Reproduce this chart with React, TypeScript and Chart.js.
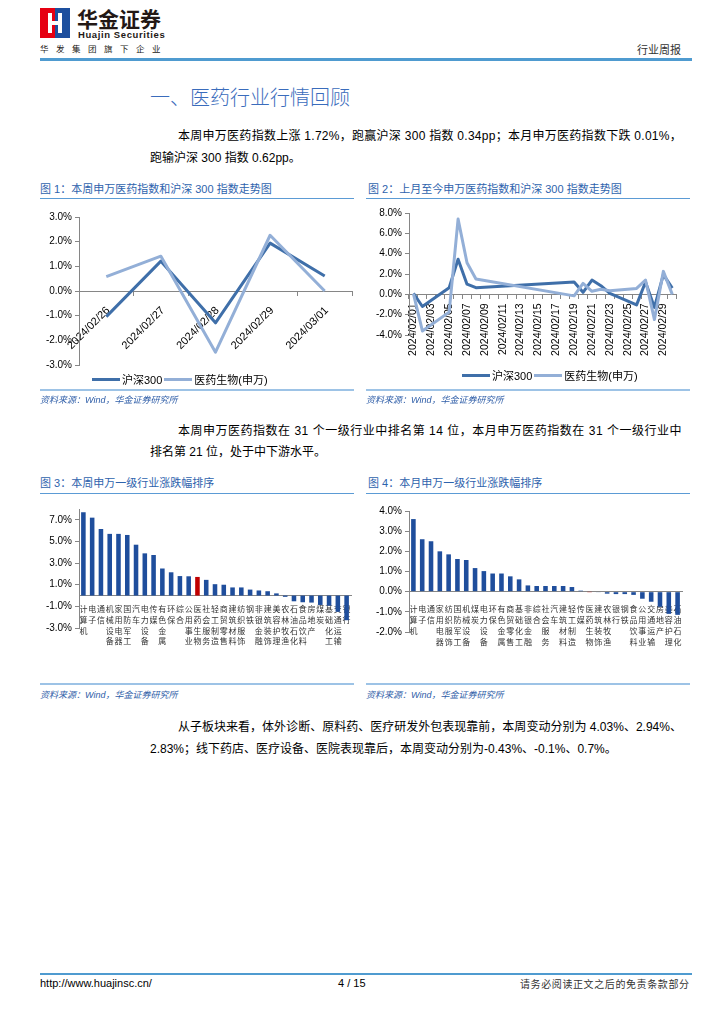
import React, { useEffect, useLayoutEffect, useRef } from 'react';
import { Chart, registerables } from 'chart.js';

Chart.register(...registerables);

// ---------------- data ----------------
const weekDates = ['2024/02/26', '2024/02/27', '2024/02/28', '2024/02/29', '2024/03/01'];
const weekHs300 = [-1.04, 1.21, -1.29, 1.94, 0.61];
const weekMedicine = [0.58, 1.41, -2.48, 2.26, 0.0];

const monthDates = [
  '2024/02/01', '2024/02/02', '2024/02/03', '2024/02/04', '2024/02/05', '2024/02/06', '2024/02/07',
  '2024/02/08', '2024/02/09', '2024/02/10', '2024/02/11', '2024/02/12', '2024/02/13', '2024/02/14',
  '2024/02/15', '2024/02/16', '2024/02/17', '2024/02/18', '2024/02/19', '2024/02/20', '2024/02/21',
  '2024/02/22', '2024/02/23', '2024/02/24', '2024/02/25', '2024/02/26', '2024/02/27', '2024/02/28',
  '2024/02/29', '2024/03/01',
];
const monthHs300 = [
  0.1, -1.2, null, null, 0.65, 3.45, 1.0, 0.65,
  null, null, null, null, null, null, null, null, null, null,
  1.22, 0.2, 1.4, 0.85, 0.1, null, null,
  -1.04, 1.21, -1.29, 1.94, 0.61,
];
const monthMedicine = [
  0.05, -3.6, null, null, -1.75, 7.4, 3.1, 1.5,
  null, null, null, null, null, null, null, null, null, null,
  -0.15, 1.07, 0.3, 0.5, 0.35, null, null,
  0.58, 1.41, -2.48, 2.26, 0.0,
];

const weekIndustries = [
  '计算机', '电子', '通信', '机械设备', '家用电器', '国防军工', '汽车', '电力设备', '传媒', '有色金属',
  '环保', '综合', '公用事业', '医药生物', '社会服务', '轻工制造', '商贸零售', '建筑材料', '纺织服饰', '钢铁',
  '非银金融', '建筑装饰', '美容护理', '农林牧渔', '石油石化', '食品饮料', '房地产', '煤炭', '基础化工', '交通运输',
  '银行',
];
const weekChanges = [
  7.7, 7.2, 6.15, 5.7, 5.7, 5.6, 4.7, 3.9, 3.75, 2.5,
  2.15, 1.8, 1.78, 1.72, 1.45, 1.05, 1.0, 0.75, 0.75, 0.55,
  0.47, 0.4, 0.2, -0.12, -0.53, -0.62, -0.65, -0.87, -0.94, -1.5,
  -2.28,
];
const weekAxisTicks = [-3, -1, 1, 3, 5, 7];

const monthIndustries = [
  '计算机', '电子', '通信', '家用电器', '纺织服饰', '国防军工', '机械设备', '煤炭', '电力设备', '环保',
  '有色金属', '商贸零售', '基础化工', '非银金融', '综合', '社会服务', '汽车', '建筑材料', '轻工制造', '传媒',
  '医药生物', '建筑装饰', '农林牧渔', '银行', '钢铁', '食品饮料', '公用事业', '交通运输', '房地产', '美容护理',
  '石油石化',
];
const monthChanges = [
  3.6, 2.6, 2.5, 2.0, 1.85, 1.62, 1.57, 1.17, 1.02, 0.9,
  0.9, 0.76, 0.61, 0.31, 0.28, 0.28, 0.28, 0.28, 0.23, 0.05,
  -0.01, -0.02, -0.1, -0.12, -0.12, -0.16, -0.35, -0.5, -0.75, -1.1,
  -1.15,
];
const HIGHLIGHT = '医药生物';

// ---------------- styles ----------------
const TICK_FONT = '"Liberation Sans", Arial, sans-serif';
const CJK = '"Noto Sans CJK SC", sans-serif';
const BODY_FONT = '"Liberation Sans", "Noto Sans CJK SC", sans-serif';
const AXIS_GRAY = '#868686';
const DARK = '#3f6fa9';
const LIGHT = '#93afd7';
const BAR = '#1f4e9c';
const RED = '#c00000';
const TITLE_BLUE = '#2e63ad';
const RULE_BLUE = '#5b9bd5';

const pct = (v: any) => Number(v).toFixed(1) + '%';

function yScale(min: number, max: number, step: number, width: number, extra: any = {}) {
  return {
    type: 'linear',
    min,
    max,
    ticks: { stepSize: step, callback: pct, font: { family: TICK_FONT, size: 10 }, color: '#000', padding: 3 },
    grid: { drawOnChartArea: false, drawTicks: true, tickLength: 4, color: AXIS_GRAY },
    border: { display: true, color: AXIS_GRAY },
    afterFit: (s: any) => { s.width = width; },
    ...extra,
  };
}

const baseOptions = (padding: any) => ({
  responsive: false,
  animation: false,
  devicePixelRatio: 1,
  layout: { padding },
  plugins: { legend: { display: false }, tooltip: { enabled: false } },
});

function weekLineConfig(): any {
  return {
    type: 'line',
    data: {
      labels: weekDates,
      datasets: [
        { label: '沪深300', data: weekHs300, borderColor: DARK, borderWidth: 3, pointRadius: 0, order: 1, borderJoinStyle: 'round' },
        { label: '医药生物(申万)', data: weekMedicine, borderColor: LIGHT, borderWidth: 3, pointRadius: 0, order: 0, borderJoinStyle: 'round' },
      ],
    },
    options: {
      ...baseOptions({ left: 0, right: 6, top: 13, bottom: 8 }),
      scales: {
        x: {
          type: 'category',
          offset: true,
          position: { y: 0 },
          ticks: { minRotation: 45, maxRotation: 45, autoSkip: false, labelOffset: 2, padding: 9, font: { family: TICK_FONT, size: 11 }, color: '#000' },
          grid: { drawOnChartArea: false, tickLength: 4, color: AXIS_GRAY, offset: true },
          border: { display: true, color: AXIS_GRAY },
        },
        y: yScale(-3, 3, 1, 43),
      },
    },
  };
}

function monthLineConfig(): any {
  return {
    type: 'line',
    data: {
      labels: monthDates,
      datasets: [
        { label: '沪深300', data: monthHs300, borderColor: DARK, borderWidth: 3, pointRadius: 0, order: 1, spanGaps: true, borderJoinStyle: 'round' },
        { label: '医药生物(申万)', data: monthMedicine, borderColor: LIGHT, borderWidth: 3, pointRadius: 0, order: 0, spanGaps: true, borderJoinStyle: 'round' },
      ],
    },
    options: {
      ...baseOptions({ left: 0, right: 7, top: 8, bottom: 21 }),
      scales: {
        x: {
          type: 'category',
          offset: true,
          position: { y: 0 },
          ticks: {
            minRotation: 90, maxRotation: 90, autoSkip: false, padding: 5,
            font: { family: TICK_FONT, size: 10.5 }, color: '#000',
            callback: (_v: any, i: number) => (i % 2 === 0 ? monthDates[i] : ''),
          },
          grid: { drawOnChartArea: false, tickLength: 4, color: AXIS_GRAY, offset: true },
          border: { display: true, color: AXIS_GRAY },
        },
        y: yScale(-4, 8, 2, 43),
      },
    },
  };
}

function barConfig(names: string[], values: number[], y: any, padding: any, labelPad: number): any {
  return {
    type: 'bar',
    data: {
      labels: names.map((n) => n.split('')),
      datasets: [
        {
          data: values,
          backgroundColor: names.map((n) => (n === HIGHLIGHT ? RED : BAR)),
          barPercentage: 0.52,
          categoryPercentage: 1,
        },
      ],
    },
    options: {
      ...baseOptions(padding),
      scales: {
        x: {
          type: 'category',
          offset: true,
          position: { y: 0 },
          ticks: { autoSkip: false, minRotation: 0, maxRotation: 0, padding: labelPad, font: { family: CJK, size: 8, lineHeight: 1.35 }, color: '#333' },
          grid: { display: false },
          border: { display: true, color: AXIS_GRAY },
        },
        y,
      },
    },
  };
}

// ---------------- components ----------------
function ChartBox({ left, top, width, height, make }: any) {
  const ref = useRef<HTMLCanvasElement | null>(null);
  useEffect(() => {
    const chart = new Chart(ref.current as HTMLCanvasElement, make());
    return () => chart.destroy();
  }, []);
  return <canvas ref={ref} width={width} height={height} style={{ position: 'absolute', left, top, width, height }} />;
}

function Text({ x, y, size, color = '#000', children, style = {} }: any) {
  return (
    <div style={{ position: 'absolute', left: x, top: y - size * 0.7, fontSize: size, lineHeight: `${size * 1.4}px`, whiteSpace: 'nowrap', color, ...style }}>
      {children}
    </div>
  );
}

function FitLine({ x, y, width, size, text, color = '#000' }: any) {
  const ref = useRef<HTMLSpanElement | null>(null);
  useLayoutEffect(() => {
    const el = ref.current as HTMLSpanElement;
    el.style.letterSpacing = '0px';
    const w = el.getBoundingClientRect().width;
    const n = Array.from(text as string).length;
    el.style.letterSpacing = `${(width - w) / n}px`;
  }, []);
  return (
    <span ref={ref} style={{ position: 'absolute', left: x, top: y - size * 0.7, fontSize: size, lineHeight: `${size * 1.4}px`, whiteSpace: 'nowrap', color }}>
      {text}
    </span>
  );
}

function Rule({ x1, x2, y, h = 1, color = RULE_BLUE }: any) {
  return <div style={{ position: 'absolute', left: x1, top: y, width: x2 - x1, height: h, background: color }} />;
}

function Legend({ x, y, items }: any) {
  return (
    <div style={{ position: 'absolute', left: x, top: y - 8, height: 16, display: 'flex', alignItems: 'center', fontFamily: BODY_FONT, fontSize: 11, whiteSpace: 'nowrap' }}>
      {items.map((it: any) => (
        <div key={it.label} style={{ display: 'flex', alignItems: 'center' }}>
          <div style={{ width: 28, height: 3, background: it.color }} />
          <span style={{ marginLeft: 2, marginRight: 2 }}>{it.label}</span>
        </div>
      ))}
    </div>
  );
}

function Source({ x, y }: any) {
  return (
    <Text x={x} y={y} size={9} color="#2f5ea8" style={{ fontStyle: 'italic', fontFamily: BODY_FONT }}>
      资料来源：Wind，华金证券研究所
    </Text>
  );
}

function Logo() {
  return (
    <>
      <div style={{ position: 'absolute', left: 40, top: 8, width: 15, height: 30, background: '#e60012' }} />
      <div style={{ position: 'absolute', left: 55, top: 8, width: 15, height: 30, background: '#1d4f9e' }} />
      <div style={{ position: 'absolute', left: 48, top: 13, width: 4, height: 20, background: '#fff' }} />
      <div style={{ position: 'absolute', left: 58, top: 13, width: 4, height: 20, background: '#fff' }} />
      <div style={{ position: 'absolute', left: 52, top: 21, width: 6, height: 4, background: '#fff' }} />
      <Text x={77} y={18} size={21} color="#231815" style={{ fontFamily: CJK, fontWeight: 700, lineHeight: '22px', top: 7 }}>华金证券</Text>
      <Text x={78} y={35} size={9.5} color="#231815" style={{ fontFamily: '"Liberation Sans", sans-serif', fontWeight: 700, letterSpacing: 0.6 }}>Huajin Securities</Text>
      <Text x={40} y={49} size={8.5} color="#231815" style={{ fontFamily: CJK, letterSpacing: 7.5 }}>华发集团旗下企业</Text>
    </>
  );
}

export default function App() {
  const legendItems = [
    { label: '沪深300', color: DARK },
    { label: '医药生物(申万)', color: LIGHT },
  ];
  return (
    <div style={{ position: 'absolute', left: 0, top: 0, width: 724, height: 1024, background: '#fff', overflow: 'hidden', fontFamily: BODY_FONT, color: '#000' }}>
      <Logo />
      <Text x={637} y={50} size={11} color="#333" style={{ fontFamily: CJK }}>行业周报</Text>
      <Rule x1={40} x2={692} y={58} h={3} color="#4f9bd0" />

      <Text x={150} y={97} size={20} color="#3a6cbc" style={{ fontFamily: CJK, fontWeight: 300 }}>一、医药行业行情回顾</Text>

      <FitLine x={178} y={136} width={504} size={12} text="本周申万医药指数上涨 1.72%，跑赢沪深 300 指数 0.34pp；本月申万医药指数下跌 0.01%，" />
      <Text x={150} y={158} size={12}>跑输沪深 300 指数 0.62pp。</Text>

      <Text x={40} y={190} size={11} color={TITLE_BLUE}>图 1：本周申万医药指数和沪深 300 指数走势图</Text>
      <Text x={368} y={190} size={11} color={TITLE_BLUE}>图 2：上月至今申万医药指数和沪深 300 指数走势图</Text>
      <Rule x1={40} x2={354} y={198} />
      <Rule x1={366} x2={690} y={198} />

      <ChartBox left={36} top={204} width={322} height={170} make={weekLineConfig} />
      <ChartBox left={366} top={204} width={324} height={152} make={monthLineConfig} />
      <Legend x={92} y={379} items={legendItems} />
      <Legend x={462} y={375} items={legendItems} />

      <Rule x1={40} x2={354} y={389} h={2} color="#9dc3e6" />
      <Rule x1={366} x2={690} y={389} h={2} color="#9dc3e6" />
      <Source x={40} y={400} />
      <Source x={366} y={400} />

      <FitLine x={178} y={431} width={504} size={12} text="本周申万医药指数在 31 个一级行业中排名第 14 位，本月申万医药指数在 31 个一级行业中" />
      <Text x={150} y={452} size={12}>排名第 21 位，处于中下游水平。</Text>

      <Text x={40} y={484} size={11} color={TITLE_BLUE}>图 3：本周申万一级行业涨跌幅排序</Text>
      <Text x={368} y={484} size={11} color={TITLE_BLUE}>图 4：本月申万一级行业涨跌幅排序</Text>
      <Rule x1={40} x2={354} y={493} />
      <Rule x1={366} x2={690} y={493} />

      <ChartBox
        left={36} top={500} width={320} height={150}
        make={() => barConfig(weekIndustries, weekChanges,
          yScale(-3, 8, 2, 43, { afterBuildTicks: (s: any) => { s.ticks = weekAxisTicks.map((v) => ({ value: v })); } }),
          { left: 0, right: 5, top: 8, bottom: 22 }, 0)}
      />
      <ChartBox
        left={366} top={500} width={322} height={150}
        make={() => barConfig(monthIndustries, monthChanges, yScale(-2, 4, 1, 43), { left: 0, right: 6, top: 11, bottom: 18 }, 4)}
      />

      <Rule x1={40} x2={354} y={683} h={2} color="#9dc3e6" />
      <Rule x1={366} x2={690} y={683} h={2} color="#9dc3e6" />
      <Source x={40} y={695} />
      <Source x={366} y={695} />

      <FitLine x={178} y={727} width={504} size={12} text="从子板块来看，体外诊断、原料药、医疗研发外包表现靠前，本周变动分别为 4.03%、2.94%、" />
      <Text x={150} y={749} size={12}>2.83%；线下药店、医疗设备、医院表现靠后，本周变动分别为-0.43%、-0.1%、0.7%。</Text>

      <Rule x1={40} x2={692} y={973} h={2} color="#4f9bd0" />
      <Text x={40} y={984} size={11} color="#000">http://www.huajinsc.cn/</Text>
      <Text x={338} y={984} size={11} color="#000">4 / 15</Text>
      <Text x={520} y={984} size={10} color="#333" style={{ fontFamily: CJK, letterSpacing: 0.6 }}>请务必阅读正文之后的免责条款部分</Text>
    </div>
  );
}
